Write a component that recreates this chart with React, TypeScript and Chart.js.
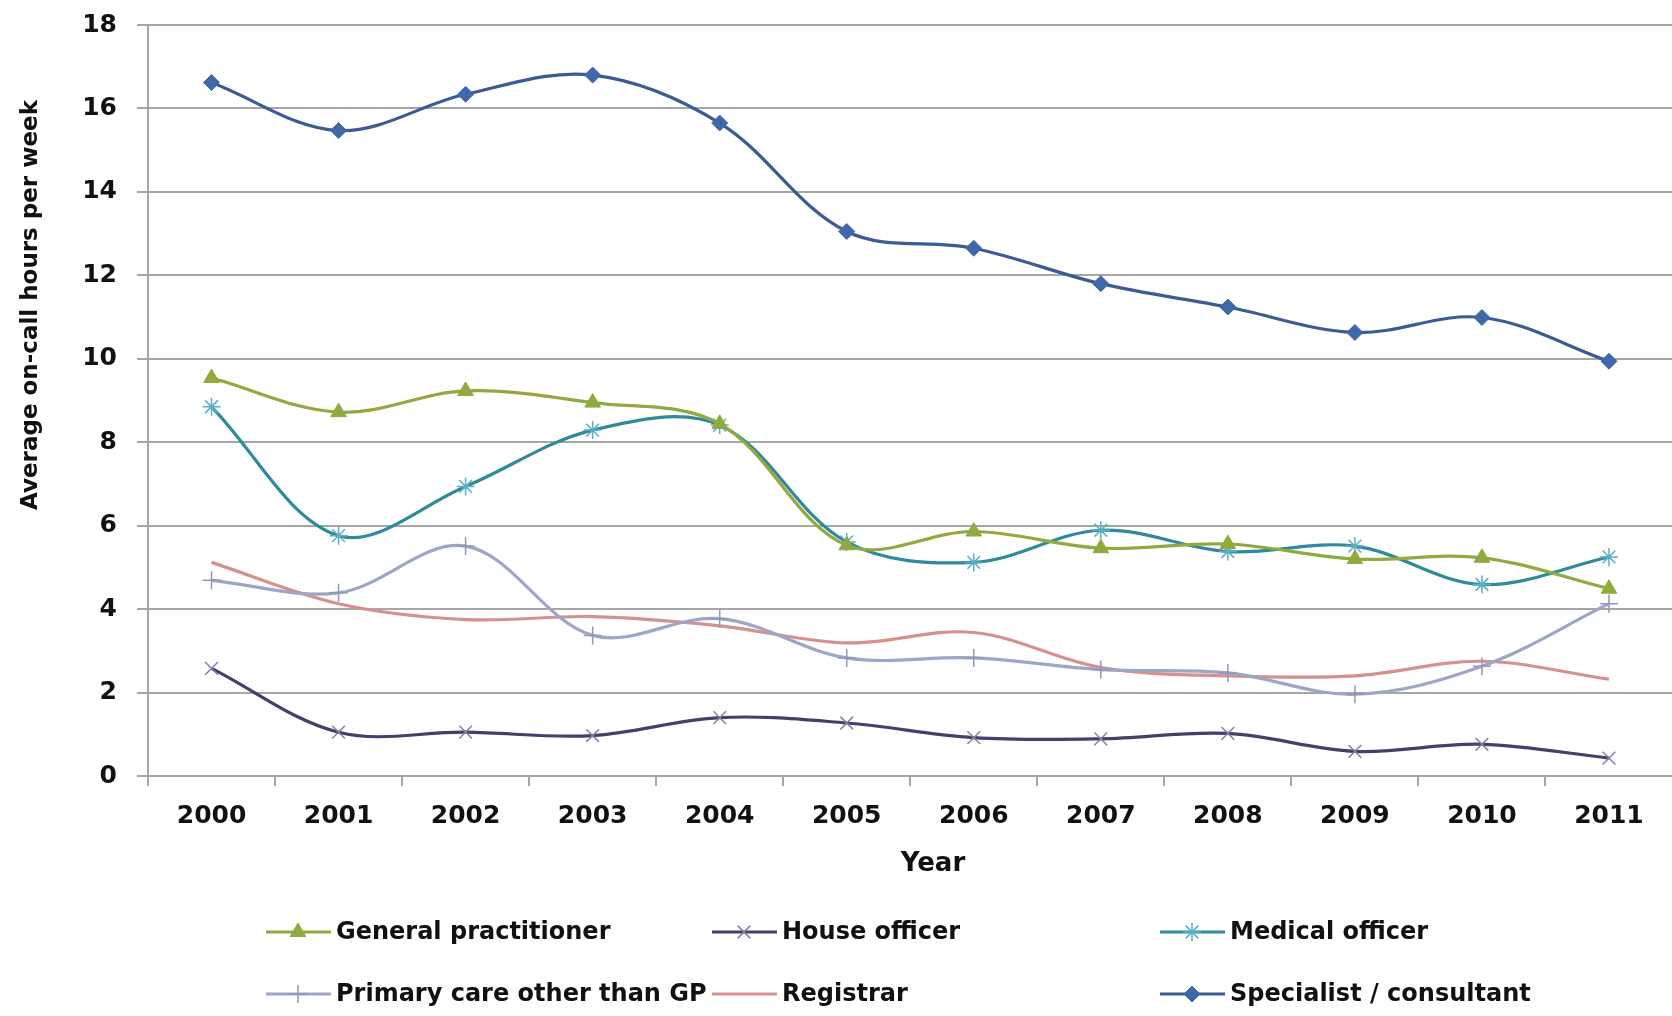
import { useEffect, useRef } from "react";
import { Chart, registerables } from "chart.js";
import { drawPoint } from "chart.js/helpers";

Chart.register(...registerables);

// Average on-call hours per week, by year and doctor category
const years = ["2000", "2001", "2002", "2003", "2004", "2005", "2006", "2007", "2008", "2009", "2010", "2011"];

const generalPractitioner = [9.54, 8.72, 9.23, 8.95, 8.44, 5.53, 5.86, 5.46, 5.56, 5.2, 5.23, 4.49];
const houseOfficer = [2.58, 1.05, 1.05, 0.97, 1.4, 1.27, 0.92, 0.89, 1.02, 0.59, 0.76, 0.43];
const medicalOfficer = [8.85, 5.76, 6.94, 8.29, 8.41, 5.61, 5.12, 5.89, 5.38, 5.51, 4.59, 5.25];
const primaryCareOther = [4.69, 4.39, 5.51, 3.37, 3.77, 2.83, 2.83, 2.55, 2.47, 1.96, 2.63, 4.13];
const registrar = [5.12, 4.13, 3.75, 3.82, 3.6, 3.19, 3.44, 2.6, 2.4, 2.4, 2.75, 2.32];
const specialistConsultant = [16.62, 15.47, 16.34, 16.8, 15.65, 13.05, 12.65, 11.8, 11.24, 10.63, 10.99, 9.94];

const seriesNames = [
  "General practitioner",
  "House officer",
  "Medical officer",
  "Primary care other than GP",
  "Registrar",
  "Specialist / consultant",
];

const yTicksMax = 18;
const yTickStep = 2;
const xTitle = "Year";
const yTitle = "Average on-call hours per week";

const FONT = "'DejaVu Sans', 'Liberation Sans', sans-serif";
const GRID = "#A6A6A6";

// The canvas runs a little past the top and right edges of the page so the
// plot area reaches the window edge; OY shifts page coordinates into canvas ones.
const CANVAS_W = 1683;
const CANVAS_H = 1026;
const OY = 10;

type Style = {
  line: string;
  point: string;
  pointStyle: any;
  radius: number;
  fill: boolean;
  bw: number;
};

const styles: Style[] = [
  { line: "#8FAA3F", point: "#8FAA3F", pointStyle: "triangle", radius: 9, fill: true, bw: 1 },
  { line: "#4A3D6E", point: "#8A7CAA", pointStyle: "crossRot", radius: 9, fill: false, bw: 1.5 },
  { line: "#2E8A9C", point: "#5AAEC6", pointStyle: "star", radius: 9, fill: false, bw: 1.5 },
  { line: "#9DA6C6", point: "#8E98BC", pointStyle: "cross", radius: 9, fill: false, bw: 1.5 },
  { line: "#D6908E", point: "#D6908E", pointStyle: false, radius: 0, fill: false, bw: 0 },
  { line: "#3C5B94", point: "#4068A8", pointStyle: "rectRot", radius: 8, fill: true, bw: 1 },
];

const seriesValues = [
  generalPractitioner,
  houseOfficer,
  medicalOfficer,
  primaryCareOther,
  registrar,
  specialistConsultant,
];

// Axis titles and a two-row legend with fixed columns
const annotations = {
  id: "annotations",
  afterDraw(chart: any) {
    const ctx = chart.ctx as CanvasRenderingContext2D;
    ctx.save();
    ctx.fillStyle = "#111";
    ctx.textAlign = "center";
    ctx.textBaseline = "middle";

    // y title
    ctx.font = `bold 23px ${FONT}`;
    ctx.save();
    ctx.translate(31, 305 + OY);
    ctx.rotate(-Math.PI / 2);
    ctx.fillText(yTitle, 0, 0);
    ctx.restore();

    // x title
    ctx.font = `bold 26px ${FONT}`;
    ctx.fillText(xTitle, 933, 864 + OY);

    // legend
    const cols = [266, 712, 1160];
    const rows = [932 + OY, 994 + OY];
    ctx.textAlign = "left";
    ctx.font = `bold 24px ${FONT}`;
    seriesNames.forEach((name, i) => {
      const x0 = cols[i % 3];
      const y = rows[Math.floor(i / 3)];
      const st = styles[i];
      ctx.strokeStyle = st.line;
      ctx.lineWidth = 3;
      ctx.beginPath();
      ctx.moveTo(x0, y);
      ctx.lineTo(x0 + 65, y);
      ctx.stroke();
      if (st.pointStyle) {
        ctx.fillStyle = st.fill ? st.point : "rgba(0,0,0,0)";
        ctx.strokeStyle = st.point;
        ctx.lineWidth = st.bw;
        drawPoint(ctx, { pointStyle: st.pointStyle, radius: st.radius, rotation: 0, borderWidth: st.bw } as any, x0 + 32, y);
      }
      ctx.fillStyle = "#111";
      ctx.fillText(name, x0 + 70, y + 1);
    });
    ctx.restore();
  },
};

export default function App() {
  const ref = useRef<HTMLCanvasElement>(null);

  useEffect(() => {
    if (!ref.current) return;
    const chart = new Chart(ref.current, {
      type: "line",
      data: {
        labels: years,
        datasets: seriesValues.map((vals, i) => ({
          label: seriesNames[i],
          data: vals,
          borderColor: styles[i].line,
          backgroundColor: styles[i].fill ? styles[i].point : "rgba(0,0,0,0)",
          pointBorderColor: styles[i].point,
          pointBackgroundColor: styles[i].fill ? styles[i].point : "rgba(0,0,0,0)",
          pointStyle: styles[i].pointStyle,
          pointRadius: styles[i].radius,
          pointBorderWidth: styles[i].bw,
          borderWidth: 3.2,
          tension: 0.35,
          fill: false,
        })),
      },
      options: {
        responsive: false,
        animation: false,
        layout: { padding: { top: 13, right: 0, bottom: 0, left: 0 } },
        plugins: {
          legend: { display: false },
          tooltip: { enabled: false },
        },
        scales: {
          x: {
            offset: true,
            grid: {
              offset: true,
              drawOnChartArea: false,
              drawTicks: true,
              tickLength: 10,
              color: GRID,
              lineWidth: 2,
            },
            border: { color: GRID, width: 2 },
            ticks: {
              color: "#111",
              padding: 15,
              maxRotation: 0,
              font: { family: FONT, size: 25, weight: "bold" },
            },
            afterFit: (s: any) => {
              s.height = 240;
            },
          },
          y: {
            min: 0,
            max: yTicksMax,
            ticks: {
              stepSize: yTickStep,
              color: "#111",
              padding: 20,
              font: { family: FONT, size: 25, weight: "bold" },
            },
            grid: { color: GRID, lineWidth: 2, tickLength: 11 },
            border: { color: GRID, width: 2 },
            afterFit: (s: any) => {
              s.width = 148;
            },
          },
        },
      },
      plugins: [annotations],
    });
    return () => chart.destroy();
  }, []);

  return (
    <canvas
      ref={ref}
      width={CANVAS_W}
      height={CANVAS_H}
      style={{ position: "fixed", left: 0, top: -OY, width: CANVAS_W, height: CANVAS_H, background: "#fff" }}
    />
  );
}
